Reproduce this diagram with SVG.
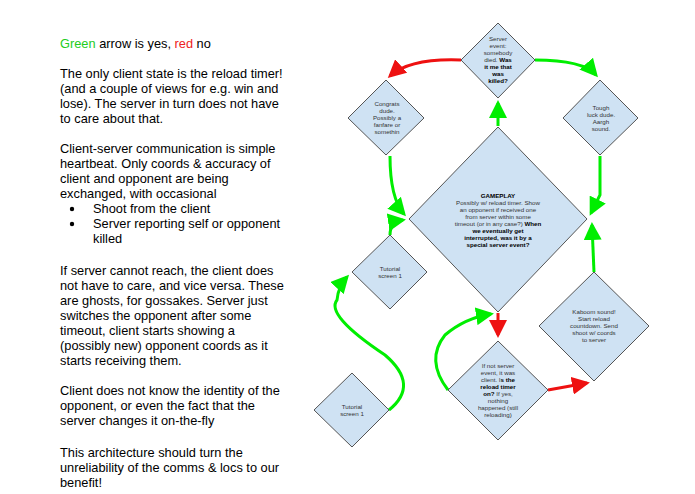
<svg xmlns="http://www.w3.org/2000/svg" width="695" height="494" viewBox="0 0 695 494">
<style>
.t{font-family:"Liberation Sans",Arial,sans-serif;font-size:12.8px;fill:#000}
.n{fill:#cfe2f3;stroke:#555;stroke-width:1}
.s{font-family:"Liberation Sans",Arial,sans-serif;font-size:6.2px;fill:#333;text-anchor:middle}
.b{font-weight:bold;fill:#000}
.g{fill:none;stroke:#00ee00;stroke-width:3}
.r{fill:none;stroke:#ee1111;stroke-width:3}
</style>
<defs>
<marker id="ag" markerWidth="6" markerHeight="6" refX="5" refY="3" orient="auto" markerUnits="strokeWidth"><path d="M0,0L6,3L0,6z" fill="#00ee00"/></marker>
<marker id="ar" markerWidth="6" markerHeight="6" refX="5" refY="3" orient="auto" markerUnits="strokeWidth"><path d="M0,0L6,3L0,6z" fill="#ee1111"/></marker>
</defs>
<rect width="695" height="494" fill="#fff"/>
<g id="notes" class="t">
<text x="60" y="48"><tspan fill="#22cc22">Green</tspan> arrow is yes, <tspan fill="#ee2222">red</tspan> no</text>
<text x="60" y="78">The only client state is the reload timer!</text>
<text x="60" y="93">(and a couple of views for e.g. win and</text>
<text x="60" y="108">lose). The server in turn does not have</text>
<text x="60" y="123">to care about that.</text>
<text x="60" y="153">Client-server communication is simple</text>
<text x="60" y="168">heartbeat. Only coords &amp; accuracy of</text>
<text x="60" y="183">client and opponent are being</text>
<text x="60" y="198">exchanged, with occasional</text>
<circle cx="72" cy="209" r="2.2"/>
<text x="93" y="213">Shoot from the client</text>
<circle cx="72" cy="224" r="2.2"/>
<text x="93" y="228">Server reporting self or opponent</text>
<text x="93" y="243">killed</text>
<text x="60" y="275">If server cannot reach, the client does</text>
<text x="60" y="290">not have to care, and vice versa. These</text>
<text x="60" y="305">are ghosts, for gossakes. Server just</text>
<text x="60" y="320">switches the opponent after some</text>
<text x="60" y="335">timeout, client starts showing a</text>
<text x="60" y="350">(possibly new) opponent coords as it</text>
<text x="60" y="365">starts receiving them.</text>
<text x="60" y="395">Client does not know the identity of the</text>
<text x="60" y="410">opponent, or even the fact that the</text>
<text x="60" y="425">server changes it on-the-fly</text>
<text x="60" y="457">This architecture should turn the</text>
<text x="60" y="472">unreliability of the comms &amp; locs to our</text>
<text x="60" y="487">benefit!</text>
</g>
<g id="connectors">
<path class="r" d="M461,60 Q410,58 390,76" marker-end="url(#ar)"/>
<path class="g" d="M535,60 Q583,60 596,75" marker-end="url(#ag)"/>
<path class="g" d="M498,126 L498,103" marker-end="url(#ag)"/>
<path class="g" d="M390,156 Q390,198 404,214" marker-end="url(#ag)"/>
<path class="g" d="M600,156 L600,195 L591,213" marker-end="url(#ag)"/>
<path class="g" d="M390,235 Q390,222 403,220" marker-end="url(#ag)"/>
<path class="g" d="M389,410 Q420,385 385,355 Q325,315 337,300 Q338,287 347,277" marker-end="url(#ag)"/>
<path class="r" d="M498,313 L498,335" marker-end="url(#ar)"/>
<path class="g" d="M448,390 Q425,360 445,335 Q465,318 491,314" marker-end="url(#ag)"/>
<path class="r" d="M548,390 L587,383" marker-end="url(#ar)"/>
<path class="g" d="M594,272 L592,225" marker-end="url(#ag)"/>
</g>
<g id="server-event">
<path class="n" d="M498,23L535,60L498,98L461,60z"/>
<text class="s" x="498" y="41">Server</text><text class="s" x="498" y="48">event:</text><text class="s" x="498" y="55">somebody</text>
<text class="s" x="498" y="62">died. <tspan class="b">Was</tspan></text><text class="s b" x="498" y="69">it me that</text><text class="s b" x="498" y="76">was</text><text class="s b" x="498" y="83">killed?</text>
</g>
<g id="congrats">
<path class="n" d="M386,80L424,118L386,155L348,118z"/>
<text class="s" x="387" y="106">Congrats</text><text class="s" x="387" y="113">dude.</text><text class="s" x="387" y="120">Possibly a</text><text class="s" x="387" y="127">fanfare or</text><text class="s" x="387" y="134">somethin</text>
</g>
<g id="tough">
<path class="n" d="M600,80L638,118L600,155L563,118z"/>
<text class="s" x="601" y="110">Tough</text><text class="s" x="601" y="117">luck dude.</text><text class="s" x="601" y="124">Aargh</text><text class="s" x="601" y="131">sound.</text>
</g>
<g id="gameplay">
<path class="n" d="M498,127L587,219L498,312L409,219z"/>
<text class="s b" x="498" y="198">GAMEPLAY</text>
<text class="s" x="498" y="205">Possibly w/ reload timer. Show</text>
<text class="s" x="498" y="212">an opponent if received one</text>
<text class="s" x="498" y="219">from server within some</text>
<text class="s" x="498" y="226">timeout (or in any case?) <tspan class="b">When</tspan></text>
<text class="s b" x="498" y="233">we eventually get</text>
<text class="s b" x="498" y="240">interrupted, was it  by a</text>
<text class="s b" x="498" y="247">special server event?</text>
</g>
<g id="tutorial-upper">
<path class="n" d="M390,235L427,272L390,309L352,272z"/>
<text class="s" x="390" y="271">Tutorial</text><text class="s" x="390" y="278">screen 1</text>
</g>
<g id="tutorial-lower">
<path class="n" d="M352,373L389,410L352,447L314,410z"/>
<text class="s" x="352" y="409">Tutorial</text><text class="s" x="352" y="416">screen 1</text>
</g>
<g id="reload-check">
<path class="n" d="M498,341L548,390L498,440L448,390z"/>
<text class="s" x="498" y="368">If not server</text><text class="s" x="498" y="375">event, it was</text>
<text class="s" x="498" y="382">client. I<tspan class="b">s the</tspan></text><text class="s b" x="498" y="389">reload timer</text>
<text class="s" x="498" y="396"><tspan class="b">on?</tspan> If yes,</text><text class="s" x="498" y="403">nothing</text><text class="s" x="498" y="410">happened (still</text><text class="s" x="498" y="417">reloading)</text>
</g>
<g id="kaboom">
<path class="n" d="M594,272L649,326L594,381L539,326z"/>
<text class="s" x="594" y="314">Kaboom sound!</text><text class="s" x="594" y="321">Start reload</text><text class="s" x="594" y="328">countdown. Send</text><text class="s" x="594" y="335">shoot w/ coords</text><text class="s" x="594" y="342">to server</text>
</g>
</svg>
